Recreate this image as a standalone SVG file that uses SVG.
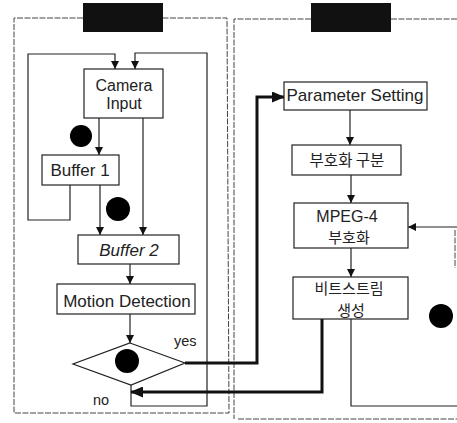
<svg xmlns="http://www.w3.org/2000/svg" width="457" height="423" viewBox="0 0 457 423">
<style>
.panel{fill:none;stroke:#444;stroke-width:1;stroke-dasharray:6 1.5}
.box{fill:#fff;stroke:#222;stroke-width:1.2}
.ln{fill:none;stroke:#222;stroke-width:1.2}
.thick{fill:none;stroke:#111;stroke-width:3}
.dot{fill:#000}
.hdr{fill:#111}
text{font-family:"Liberation Sans","Noto Sans CJK KR",sans-serif;font-size:17px;fill:#222;text-anchor:middle}
.kr{font-family:"Noto Sans CJK KR","Liberation Sans",sans-serif;font-size:15.5px}
.two{font-size:16px}
.lbl{font-size:14.5px;text-anchor:start}
</style>
<defs>
<marker id="ah" markerWidth="8" markerHeight="8" refX="8" refY="4" orient="auto" markerUnits="userSpaceOnUse">
<path d="M0,0 L8,4 L0,8 Z" fill="#111"/>
</marker>
<marker id="ahb" markerWidth="13" markerHeight="11" refX="12" refY="5.5" orient="auto" markerUnits="userSpaceOnUse">
<path d="M0,0 L13,5.5 L0,11 Z" fill="#111"/>
</marker>
</defs>

<g id="panels">
<path class="panel" d="M83,18 H14 V413 H229 L227,18 H163"/>
<path class="panel" d="M311,19 H234 V419"/>
<path class="panel" d="M391,19 H457"/>
<path class="panel" d="M238,419 H457"/>
<path class="panel" d="M455,230 V268" stroke-dasharray="2 2"/>
<rect class="hdr" x="83" y="3" width="80" height="29"/>
<rect class="hdr" x="311" y="3" width="80" height="29"/>
</g>

<g id="connectors">
<path class="ln" d="M70,185 V220 H28 V54 H115 V69" marker-end="url(#ah)"/>
<path class="ln" d="M131,385 V406 H207 V53 H135 V69" marker-end="url(#ah)"/>
<path class="ln" d="M99,118 V155" marker-end="url(#ah)"/>
<path class="ln" d="M143,118 V235" marker-end="url(#ah)"/>
<path class="ln" d="M100,185 V235" marker-end="url(#ah)"/>
<path class="ln" d="M130,264 V284" marker-end="url(#ah)"/>
<path class="ln" d="M130,314 V343" marker-end="url(#ah)"/>
<path class="thick" d="M185,363 H257 V97 H284" marker-end="url(#ahb)"/>
<path class="thick" d="M322,319 V392 H131" marker-end="url(#ahb)"/>
<path class="ln" d="M351,319 V406 H457"/>
<path class="ln" d="M350,110 V145" marker-end="url(#ah)"/>
<path class="ln" d="M351,175 V203" marker-end="url(#ah)"/>
<path class="ln" d="M351,248 V277" marker-end="url(#ah)"/>
<path class="ln" d="M457,227 H408" marker-end="url(#ah)"/>
</g>

<g id="camera-input">
<rect class="box" x="84" y="69" width="79" height="49"/>
<text class="two" x="124" y="91">Camera</text>
<text class="two" x="124" y="109">Input</text>
</g>
<g id="buffer1">
<rect class="box" x="42" y="155" width="77" height="30"/>
<text x="80" y="176">Buffer 1</text>
</g>
<g id="buffer2">
<rect class="box" x="78" y="235" width="101" height="29"/>
<text x="129" y="256" font-style="italic">Buffer 2</text>
</g>
<g id="motion-detection">
<rect class="box" x="57" y="284" width="138" height="30"/>
<text x="127" y="307">Motion Detection</text>
</g>
<g id="decision">
<path class="box" d="M130,343 L185,363 L131,385 L73,364 Z"/>
<circle class="dot" cx="127" cy="361" r="12"/>
<text class="lbl" x="174" y="346">yes</text>
<text class="lbl" x="93" y="405">no</text>
</g>
<g id="markers">
<circle class="dot" cx="81" cy="136" r="11"/>
<circle class="dot" cx="118" cy="209" r="12"/>
<circle class="dot" cx="441" cy="316" r="12"/>
</g>
<g id="parameter-setting">
<rect class="box" x="284" y="82" width="143" height="28"/>
<text x="355" y="101">Parameter Setting</text>
</g>
<g id="encoding-class">
<rect class="box" x="292" y="145" width="109" height="30"/>
<text class="kr" x="347" y="166">부호화 구분</text>
</g>
<g id="mpeg4">
<rect class="box" x="294" y="203" width="114" height="45"/>
<text class="two" x="347" y="222">MPEG-4</text>
<text class="kr" x="349" y="243" style="font-size:15px">부호화</text>
</g>
<g id="bitstream">
<rect class="box" x="293" y="277" width="115" height="42"/>
<text class="kr" x="349" y="294" style="font-size:15px">비트스트림</text>
<text class="kr" x="351" y="316" style="font-size:15px">생성</text>
</g>
</svg>
